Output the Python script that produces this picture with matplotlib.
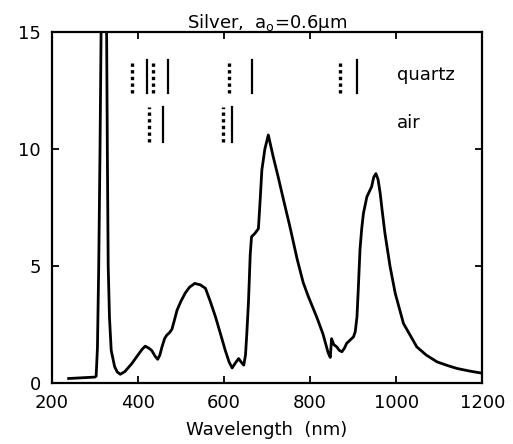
import matplotlib.pyplot as plt

plt.rcParams['font.family'] = ['DejaVu Sans']

# espectro de espalhamento (prata, a0 = 0.6 um)
comprimento = [239, 260, 280, 300, 303, 306, 309, 312, 315, 320, 327, 329, 331, 334, 338,
               346, 352, 359, 370, 386, 400, 410, 417, 425, 432, 440, 446, 451, 456, 462,
               467, 473, 479, 485, 491, 500, 510, 520, 532, 545, 557, 568, 580, 592, 603,
               612, 619, 626, 634, 640, 646, 650, 653, 657, 661, 664, 672, 680, 684, 688,
               695, 703, 714, 726, 740, 753, 770, 784, 796, 816, 830, 842, 847, 850, 855,
               862, 868, 874, 880, 885, 893, 901, 905, 909, 912, 916, 920, 924, 932, 943,
               948, 953, 958, 963, 968, 974, 986, 998, 1017, 1048, 1070, 1095, 1120, 1141,
               1170, 1195, 1200]
intensidade = [0.20, 0.22, 0.24, 0.26, 0.30, 1.5, 5.0, 10.0, 16.0, 25.0, 16.0, 10.0, 5.0, 2.8, 1.4,
               0.70, 0.48, 0.38, 0.50, 0.84, 1.2, 1.45, 1.58, 1.5, 1.4, 1.15, 1.02, 1.2, 1.55, 1.9,
               2.05, 2.15, 2.3, 2.7, 3.12, 3.5, 3.85, 4.1, 4.26, 4.2, 4.05, 3.5, 2.85, 2.1, 1.4,
               0.9, 0.65, 0.85, 1.05, 0.9, 0.77, 1.2, 2.1, 3.5, 5.5, 6.25, 6.4, 6.6, 7.8, 9.1,
               10.0, 10.6, 9.7, 8.8, 7.7, 6.7, 5.3, 4.3, 3.7, 2.8, 2.1, 1.3, 1.1, 1.9, 1.65,
               1.55, 1.4, 1.34, 1.5, 1.7, 1.84, 1.98, 2.2, 2.83, 4.0, 5.7, 6.6, 7.25, 7.96, 8.39,
               8.8, 8.95, 8.7, 8.1, 7.3, 6.4, 4.97, 3.83, 2.55, 1.55, 1.2, 0.91, 0.75, 0.63,
               0.52, 0.44, 0.43]

# marcadores das ressonancias
quartzo_tracejado = [387, 436, 612, 870]
quartzo_solido = [420, 469, 666, 909]
ar_tracejado = [426, 598]
ar_solido = [459, 619]

fig = plt.figure(figsize=(5.13, 4.44), dpi=100)
ax = fig.add_axes([0.101, 0.137, 0.839, 0.791])

ax.plot(comprimento, intensidade, color='black', lw=2.0)

for x in quartzo_tracejado:
    ax.plot([x, x], [12.4, 13.8], color='black', lw=2.4, linestyle=(0, (1, 1)))
for x in quartzo_solido:
    ax.plot([x, x], [12.4, 13.8], color='black', lw=1.6)
for x in ar_tracejado:
    ax.plot([x, x], [10.3, 11.8], color='black', lw=2.4, linestyle=(0, (1, 1)))
for x in ar_solido:
    ax.plot([x, x], [10.3, 11.8], color='black', lw=1.6)

ax.text(1002, 13.15, 'quartz', fontsize=13, va='center', ha='left')
ax.text(1002, 11.1, 'air', fontsize=13, va='center', ha='left')

ax.set_xlim(200, 1200)
ax.set_ylim(0, 15)
ax.set_xticks([200, 400, 600, 800, 1000, 1200])
ax.set_yticks([0, 5, 10, 15])
ax.tick_params(direction='in', top=True, right=True, length=5, width=1.3, labelsize=13)
ax.tick_params(axis='x', pad=8)
ax.tick_params(axis='y', pad=8)
for s in ax.spines.values():
    s.set_linewidth(1.6)

ax.set_xlabel('Wavelength  (nm)', fontsize=13, labelpad=6)
ax.set_title(r'Silver,  a$_\mathregular{o}$=0.6μm', fontsize=13, pad=3)

fig.savefig('out.png')
